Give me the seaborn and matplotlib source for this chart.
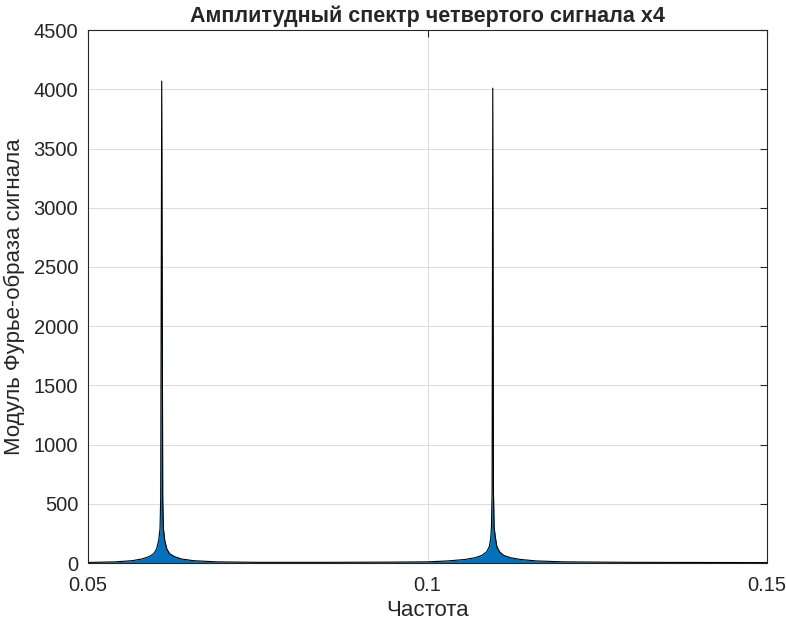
import matplotlib
matplotlib.use("Agg")
import matplotlib.pyplot as plt
import seaborn as sns
import pandas as pd

freq = [0.0500, 0.0540, 0.0565, 0.0580, 0.0590, 0.0597, 0.0601, 0.0604, 0.0606, 0.0607,
        0.06085, 0.0610, 0.0611, 0.0613, 0.0616, 0.0620, 0.0627, 0.0637, 0.0655, 0.0690,
        0.0750, 0.0850, 0.0950,
        0.1000, 0.1030, 0.1055, 0.1070, 0.1080, 0.1087, 0.1091, 0.1093, 0.1094, 0.1095,
        0.1096, 0.1097, 0.1098, 0.1100, 0.1102, 0.1106, 0.1112, 0.1122, 0.1137, 0.1160,
        0.1200, 0.1300, 0.1500]
amp = [5, 10, 20, 35, 55, 80, 120, 190, 290, 550,
       4070, 550, 290, 190, 120, 80, 55, 35, 20, 10,
       6, 6, 8,
       10, 18, 30, 45, 65, 95, 140, 210, 300, 600,
       4010, 600, 300, 210, 140, 95, 65, 45, 30, 18,
       10, 6, 4]

df = pd.DataFrame({"f": freq, "a": amp})

sns.set_style("white")
plt.rcParams['font.family'] = ['Liberation Sans', 'DejaVu Sans']

fig = plt.figure(figsize=(7.86, 6.27), dpi=100)
ax = fig.add_axes([0.112, 0.102, 0.864, 0.850])

ax.fill_between(df["f"], df["a"], color="#0072BD", linewidth=0)
sns.lineplot(data=df, x="f", y="a", color="black", linewidth=0.8, ax=ax)

ax.set_xlim(0.05, 0.15)
ax.set_ylim(0, 4500)
ax.set_xticks([0.05, 0.1, 0.15])
ax.set_xticklabels(["0.05", "0.1", "0.15"])
ax.set_yticks(range(0, 4501, 500))
ax.grid(True, color="#dcdcdc", linewidth=0.7)
ax.set_axisbelow(True)
for s in ax.spines.values():
    s.set_color("#262626")
    s.set_linewidth(0.8)
ax.tick_params(direction="in", length=5, width=0.8, labelsize=14.5, colors="#262626",
               top=True, right=True, labelcolor="#262626")
ax.tick_params(axis="x", pad=9)
ax.tick_params(axis="y", pad=7)
ax.set_xlabel("Частота", fontsize=16, color="#262626", labelpad=4)
ax.set_ylabel("Модуль Фурье-образа сигнала", fontsize=16, color="#262626", labelpad=6)
ax.set_title("Амплитудный спектр четвертого сигнала x4", fontsize=15.5, fontweight="bold", pad=6)

fig.savefig("out.png", dpi=100)
